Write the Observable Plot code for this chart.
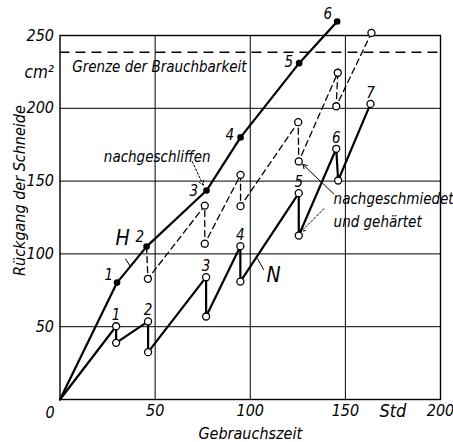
<!DOCTYPE html>
<html>
<head>
<meta charset="utf-8">
<script src="https://cdn.jsdelivr.net/npm/d3@7"></script>
<script src="https://cdn.jsdelivr.net/npm/@observablehq/plot@0.6"></script>
<style>
  html, body { margin: 0; padding: 0; background: white; }
  svg text { font-stretch: condensed; }
</style>
</head>
<body>
<div id="chart"></div>
<script>
// ---- data ----
// H: continuous curve (filled dots)
const hX = [0, 30, 45.5, 77, 94.9, 125.7, 145.7];
const hY = [0, 80.3, 105, 143.5, 180, 231, 259.6];
const hNums = ["1", "2", "3", "4", "5", "6"];
const hNumX = [25.6, 42, 70.3, 89.3, 120.3, 140.8];
const hNumY = [85.2, 111.5, 143, 181.3, 231.7, 264.9];

// N: sawtooth, re-forged and hardened (open circles, solid)
const nX = [0, 29.5, 29.5, 46.3, 46.3, 76.8, 76.8, 94.8, 94.8, 125.5, 125.5, 145.2, 146.2, 163.2];
const nY = [0, 50.3, 38.9, 53.6, 32.5, 84, 57, 105.3, 81, 141.7, 112.6, 172.2, 150.4, 203];
const nNums = ["1", "2", "3", "4", "5", "6", "7"];

// reground curve (open circles, dashed), starts at H point 2
const dX = [45.5, 46.2, 76.1, 76.1, 94.9, 94.9, 125.2, 125.5, 146, 145.2, 163.7];
const dY = [105, 82.9, 133.2, 107, 154.3, 132.8, 190.5, 163.5, 224.4, 201.4, 251.8];

const limitY = 238.5;

const yTicks = [50, 100, 150, 200, 250];
const xTicks = [50, 100, 150, 200];

// ---- build tables ----
const H = hX.map((x, i) => ({x, y: hY[i]}));
const N = nX.map((x, i) => ({x, y: nY[i]}));
const D = dX.map((x, i) => ({x, y: dY[i]}));
const hLab = hNums.map((t, i) => ({t, x: hNumX[i], y: hNumY[i]}));
const nPeaks = N.filter((d, i) => i % 2 === 1);
const nLab = nNums.map((t, i) => ({t, x: nPeaks[i].x, y: nPeaks[i].y}));

const FONT = "'DejaVu Sans Condensed', 'DejaVu Sans', sans-serif";

const chart = Plot.plot({
  width: 453,
  height: 442,
  marginLeft: 59.5,
  marginRight: 13,
  marginTop: 35,
  marginBottom: 43,
  x: {domain: [0, 200]},
  y: {domain: [0, 250]},
  style: `font-family: ${FONT}; font-style: italic; font-stretch: condensed; font-size: 16px; background: white; color: black; overflow: visible;`,
  marks: [
    Plot.gridX(xTicks.slice(0, 3), {stroke: "black", strokeOpacity: 1, strokeWidth: 1}),
    Plot.gridY(yTicks.slice(0, 4), {stroke: "black", strokeOpacity: 1, strokeWidth: 1}),
    Plot.frame({stroke: "black", strokeWidth: 1.4}),
    Plot.ruleY([limitY], {x1: 0, x2: 200, stroke: "black", strokeWidth: 1.5, strokeDasharray: "10,6"}),
    Plot.axisY({ticks: yTicks, tickSize: 0, tickPadding: 6, fontSize: 16, label: null}),
    Plot.axisX({ticks: xTicks, tickSize: 0, tickPadding: 5, fontSize: 16, label: null}),
    Plot.text(["0"], {x: 0, frameAnchor: "bottom", lineAnchor: "middle", dx: -10, dy: 13, fontSize: 16}),
    Plot.text(["Std"], {x: 175, frameAnchor: "bottom", lineAnchor: "middle", dy: 12, fontSize: 18}),
    Plot.text(["cm²"], {y: 224.6, frameAnchor: "left", dx: -6, textAnchor: "end", fontSize: 17}),
    Plot.text(["Gebrauchszeit"], {x: 100, frameAnchor: "bottom", lineAnchor: "middle", dy: 34, fontSize: 16}),
    Plot.text(["Rückgang der Schneide"], {y: 143.5, frameAnchor: "left", textAnchor: "middle", lineAnchor: "middle", dx: -40, rotate: -90, fontSize: 16}),
    Plot.text(["Grenze der Brauchbarkeit"], {x: 6.4, y: 228.2, textAnchor: "start", fontSize: 15}),

    // reground dashed curve
    Plot.line(D, {x: "x", y: "y", stroke: "black", strokeWidth: 1.3, strokeDasharray: "6,4"}),
    // N curve
    Plot.line(N, {x: "x", y: "y", stroke: "black", strokeWidth: 2.2}),
    // H curve
    Plot.line(H, {x: "x", y: "y", stroke: "black", strokeWidth: 2.2}),

    Plot.dot(D.slice(1), {x: "x", y: "y", r: 3.5, fill: "white", stroke: "black", strokeWidth: 1.3}),
    Plot.dot(N.slice(1), {x: "x", y: "y", r: 3.5, fill: "white", stroke: "black", strokeWidth: 1.3}),
    Plot.dot(H.slice(1), {x: "x", y: "y", r: 3.3, fill: "black"}),

    Plot.text(hLab, {x: "x", y: "y", text: "t", fontSize: 15}),
    Plot.text(nLab, {x: "x", y: "y", text: "t", dy: -11, fontSize: 15}),

    // curve names with leaders
    Plot.text(["H"], {x: 32.9, y: 110.6, fontSize: 21}),
    Plot.link([0], {x1: 34.4, y1: 96.8, x2: 36.8, y2: 91.6, stroke: "black", strokeWidth: 1}),
    Plot.text(["N"], {x: 112.2, y: 85.2, fontSize: 21}),
    Plot.link([0], {x1: 103.7, y1: 97.0, x2: 107.1, y2: 89.1, stroke: "black", strokeWidth: 1}),

    // annotations
    Plot.text(["nachgeschliffen"], {x: 51.1, y: 166.4, fontSize: 15}),
    Plot.arrow([0], {x1: 69.5, y1: 163.4, x2: 75.3, y2: 147.3, stroke: "black", strokeWidth: 1, headLength: 7, strokeDasharray: "2,2"}),
    Plot.text(["nachgeschmiedet"], {x: 143.8, y: 137.4, textAnchor: "start", fontSize: 15}),
    Plot.text(["und gehärtet"], {x: 143.8, y: 121.8, textAnchor: "start", fontSize: 15}),
    Plot.arrow([0], {x1: 143.9, y1: 141.2, x2: 127.6, y2: 161.5, stroke: "black", strokeWidth: 1, headLength: 7}),
    Plot.arrow([0], {x1: 138.7, y1: 131.0, x2: 126.6, y2: 115.2, stroke: "black", strokeWidth: 1, headLength: 7, strokeDasharray: "2,2"})
  ]
});
document.getElementById("chart").appendChild(chart);
</script>
</body>
</html>
